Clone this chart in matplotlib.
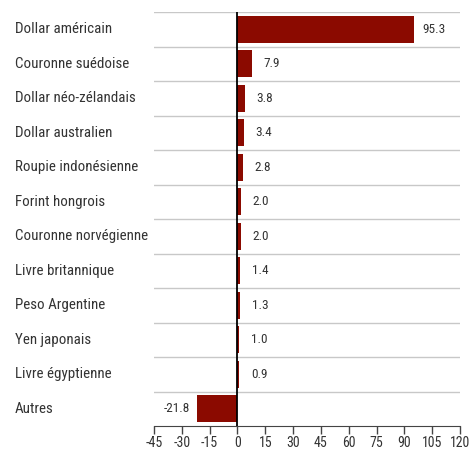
import matplotlib
matplotlib.use("Agg")
import matplotlib.pyplot as plt
import matplotlib.transforms as mtransforms

plt.rcParams['font.family'] = ['Roboto Condensed', 'DejaVu Sans']

categories = ["Dollar américain", "Couronne suédoise", "Dollar néo-zélandais",
              "Dollar australien", "Roupie indonésienne", "Forint hongrois",
              "Couronne norvégienne", "Livre britannique", "Peso Argentine",
              "Yen japonais", "Livre égyptienne", "Autres"]
values = [95.3, 7.9, 3.8, 3.4, 2.8, 2.0, 2.0, 1.4, 1.3, 1.0, 0.9, -21.8]
xticks = [-45, -30, -15, 0, 15, 30, 45, 60, 75, 90, 105, 120]

text_color = "#333333"
bar_color = "#8b0a00"

fig = plt.figure(figsize=(4.69, 4.5), dpi=100)
ax = fig.add_axes([154 / 469, 1 - 426 / 450, 306 / 469, 414 / 450])

ypos = list(range(len(categories)))
ax.barh(ypos, values, height=0.78, color=bar_color, zorder=2)

# separators between rows
for i in ypos:
    ax.axhline(i - 0.5, color="#c8c8c8", linewidth=1, zorder=1)
ax.axvline(0, color="black", linewidth=1.3, zorder=3)

ax.set_xlim(-45, 120)
ax.set_ylim(len(categories) - 0.5, -0.5)
ax.set_xticks(xticks)
ax.set_xticklabels([str(t) for t in xticks])
ax.set_yticks([])
for s in ["top", "right", "left"]:
    ax.spines[s].set_visible(False)
ax.spines["bottom"].set_color("#444444")
ax.tick_params(axis="x", direction="out", length=6, width=1, color="#444444",
               labelsize=10, labelcolor=text_color, pad=1.5)

# category names at the far left of the figure
trans = mtransforms.blended_transform_factory(fig.transFigure, ax.transData)
for y, name in zip(ypos, categories):
    ax.text(15 / 469, y, name, transform=trans, ha="left", va="center",
            fontsize=10.8, color=text_color)

# value labels
for y, v in zip(ypos, values):
    off = 20 if v >= 0 else -20
    ax.annotate(f"{v:.1f}", (v, y), xytext=(off, 0), textcoords="offset pixels",
                ha="center", va="center", fontsize=9.5, color=text_color)

fig.savefig("out.png", dpi=100)
